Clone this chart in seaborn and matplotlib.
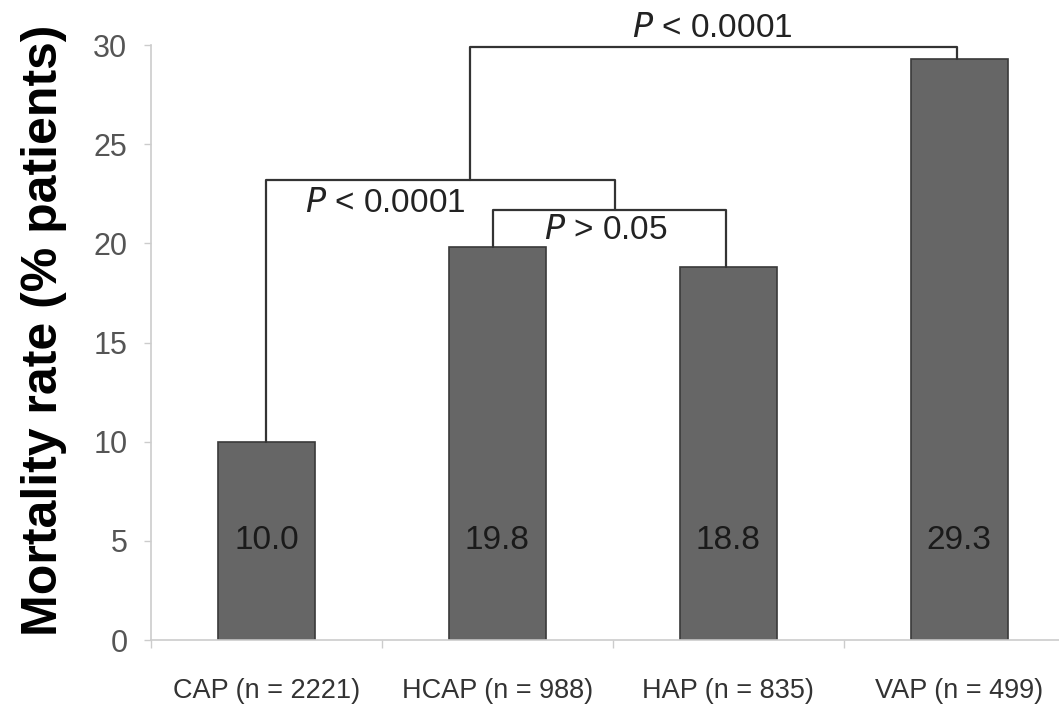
import matplotlib
matplotlib.use("Agg")
import matplotlib.pyplot as plt
import seaborn as sns
import pandas as pd
from matplotlib.ticker import FixedLocator

categories = ["CAP (n = 2221)", "HCAP (n = 988)", "HAP (n = 835)", "VAP (n = 499)"]
mortality = [10.0, 19.8, 18.8, 29.3]
value_labels = ["10.0", "19.8", "18.8", "29.3"]
y_ticks = [0, 5, 10, 15, 20, 25, 30]

sns.set_theme(style="white")
plt.rcParams["font.family"] = ["Liberation Sans", "DejaVu Sans"]

df = pd.DataFrame({"group": categories, "rate": mortality})

fig = plt.figure(figsize=(10.59, 7.08), dpi=100)
ax = fig.add_axes([0.1426, 0.096, 1.0 - 0.1426, 0.9364 - 0.096])

sns.barplot(data=df, x="group", y="rate", color="#666666", edgecolor="#3a3a3a",
            linewidth=1.2, width=0.42, saturation=1, ax=ax)

ax.set_ylim(0, 30)
ax.set_xlim(-0.5, 3.433)
ax.set_yticks(y_ticks)
ax.set_yticklabels([str(t) for t in y_ticks], fontsize=22, color="#555555")
ax.tick_params(axis="y", which="major", length=5, width=1, color="#cccccc",
               direction="out", left=True, pad=12)
ax.tick_params(axis="x", which="major", length=0, pad=27, labelsize=19.5,
               labelcolor="#333333")
ax.xaxis.set_minor_locator(FixedLocator([-0.5, 0.5, 1.5, 2.5]))
ax.tick_params(axis="x", which="minor", length=6, width=1, color="#cccccc",
               direction="out", bottom=True)

for side in ["top", "right"]:
    ax.spines[side].set_visible(False)
for side in ["left", "bottom"]:
    ax.spines[side].set_color("#cccccc")
    ax.spines[side].set_linewidth(1.2)

ax.set_xlabel("")
ax.set_ylabel("Mortality rate (% patients)", fontsize=36, fontweight="bold",
              color="black")
ax.yaxis.set_label_coords(-0.092, 0.52)

for i, lab in enumerate(value_labels):
    ax.text(i, 5, lab, ha="center", va="center", fontsize=24, color="#1a1a1a")

lc = "#333333"
lw = 1.6
# CAP vs HCAP/HAP bracket
ax.plot([0, 0, 1.51, 1.51], [10.0, 23.2, 23.2, 21.7], color=lc, lw=lw,
        clip_on=False)
# HCAP vs HAP bracket
ax.plot([0.98, 0.98, 1.99, 1.99], [19.8, 21.7, 21.7, 18.8], color=lc, lw=lw,
        clip_on=False)
# top bracket
ax.plot([0.88, 0.88, 2.99, 2.99], [23.2, 29.9, 29.9, 29.3], color=lc, lw=lw,
        clip_on=False)

ax.text(1.93, 30.85, "$\\it{P}$ < 0.0001", ha="center", va="center",
        fontsize=24, color="#222222", clip_on=False)
ax.text(0.515, 22.0, "$\\it{P}$ < 0.0001", ha="center", va="center",
        fontsize=24, color="#222222")
ax.text(1.47, 20.65, "$\\it{P}$ > 0.05", ha="center", va="center",
        fontsize=24, color="#222222")

fig.savefig("out.png", dpi=100)
